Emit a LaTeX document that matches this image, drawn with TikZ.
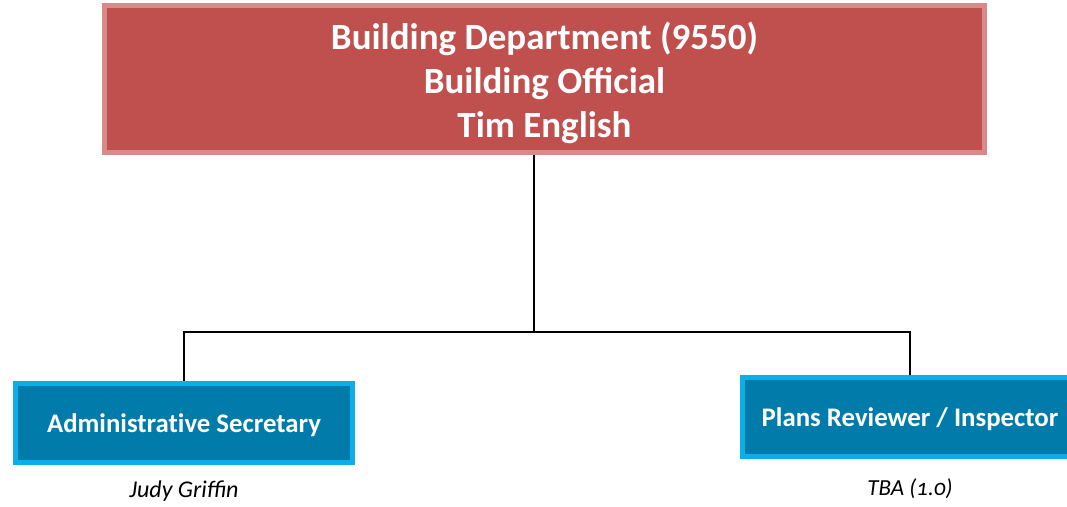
\documentclass[tikz,border=0pt]{standalone}
\usepackage{fontspec}
\setmainfont{Carlito}
\usetikzlibrary{positioning}
\definecolor{headFill}{HTML}{C0504D}
\definecolor{headEdge}{HTML}{D9898A}
\definecolor{unitFill}{HTML}{017CAA}
\definecolor{unitEdge}{HTML}{0AAEE8}

\begin{document}
\begin{tikzpicture}[x=1pt, y=-1pt,
      headbox/.style={rectangle, draw=headEdge, fill=headFill, line width=5pt,
        minimum width=880pt, minimum height=147pt},
      headtext/.style={align=center, text=white, font=\fontsize{37}{44}\selectfont\bfseries},
      unitbox/.style={rectangle, draw=unitEdge, fill=unitFill, line width=5pt,
        minimum height=79pt, text=white, text height=25pt, text depth=6pt,
        font=\fontsize{26.8}{30}\selectfont\bfseries\addfontfeatures{Ligatures=NoCommon}},
      staff/.style={font=\fontsize{24}{28}\selectfont\itshape},
      link/.style={line width=1.5pt}]
    \useasboundingbox (0,0) rectangle (1067,506);
    % boxes
    \node[headbox] (head) at (544.5,79) {};
    \node[headtext] (title) at ([yshift=-3.5pt]head.center) {Building Department (9550)\\Building Official\\Tim English};
    \node[unitbox, minimum width=337pt] (admin) at (184,422.5) {Administrative Secretary};
    \node[unitbox, minimum width=335pt] (plans) at (910,417) {Plans Reviewer / Inspector};
    % names under the boxes
    \node[staff] (judy) at (184,491) {Judy Griffin};
    \node[staff, font=\fontsize{23}{28}\selectfont\itshape\addfontfeatures{Numbers=OldStyle}] (tba) at (910,489) {TBA (1.0)};
    % connectors
    \coordinate (bus) at (534,332);
    \draw[link] (head.south -| bus) -- (bus);
    \draw[link] (admin.north) |- (bus) -| (plans.north);
  \end{tikzpicture}
\end{document}
